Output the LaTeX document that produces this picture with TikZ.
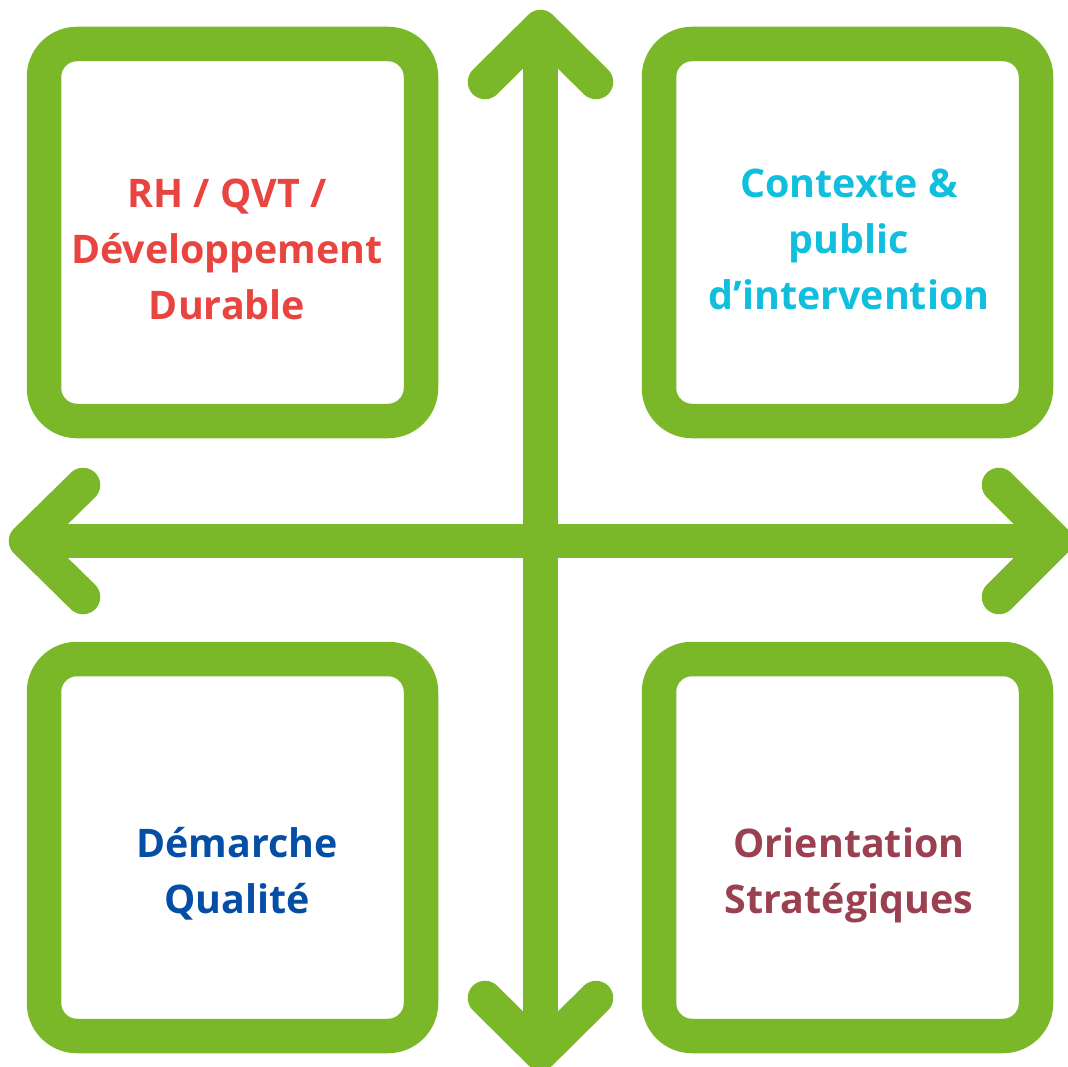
\documentclass[tikz,border=0pt]{standalone}
\usepackage{fontspec}
\setmainfont{Open Sans}
\definecolor{grn}{HTML}{7AB82A}
\definecolor{rhred}{HTML}{E84440}
\definecolor{ctxcyan}{HTML}{10BEDE}
\definecolor{dqblue}{HTML}{044EA6}
\definecolor{osmaroon}{HTML}{9A4050}
\begin{document}
\begin{tikzpicture}[x=1pt,y=-1pt,
  frame/.style={draw=grn, line width=34.5pt, rounded corners=33pt, minimum width=377pt, minimum height=377pt, inner sep=0pt, outer sep=0pt},
  lbl/.style={anchor=base, inner sep=0pt, font=\fontsize{39.4}{56}\selectfont\bfseries},
  shaft/.style={draw=grn, line width=34.5pt, line cap=butt},
  head/.style={draw=grn, line width=34.5pt, line cap=round, line join=round}]
\useasboundingbox (0,0) rectangle (1068,1067);
% boxes
\node[frame] (b1) at (232.5,232.5) {};
\node[frame] (b2) at (847.5,232.5) {};
\node[frame] (b3) at (232.5,847.5) {};
\node[frame] (b4) at (847.5,847.5) {};
% labels
\node[lbl, text=rhred] (t1) at (227,208) {\begin{tabular}[t]{@{}c@{}}RH / QVT /\\Développement\\Durable\end{tabular}};
\node[lbl, text=ctxcyan] (t2) at (849,198) {\begin{tabular}[t]{@{}c@{}}Contexte \&\\public\\d’intervention\end{tabular}};
\node[lbl, text=dqblue] (t3) at (237,857) {\begin{tabular}[t]{@{}c@{}}Démarche\\Qualité\end{tabular}};
\node[lbl, text=osmaroon] (t4) at (849,857) {\begin{tabular}[t]{@{}c@{}}Orientation\\Stratégiques\end{tabular}};
% arrow coordinates
\coordinate (top) at (540.5,27);
\coordinate (bot) at (540.5,1053);
\coordinate (lft) at (26,541);
\coordinate (rgt) at (1055,541);
\coordinate (topL) at (485,82);
\coordinate (topR) at (596,82);
\coordinate (botL) at (485,998);
\coordinate (botR) at (596,998);
\coordinate (lftT) at (83,485);
\coordinate (lftB) at (83,597);
\coordinate (rgtT) at (999,485);
\coordinate (rgtB) at (999,597);
% shafts
\draw[shaft] (top) -- (bot);
\draw[shaft] (lft) -- (rgt);
% heads
\draw[head] (topL) -- (top) -- (topR);
\draw[head] (botL) -- (bot) -- (botR);
\draw[head] (lftT) -- (lft) -- (lftB);
\draw[head] (rgtT) -- (rgt) -- (rgtB);
\end{tikzpicture}
\end{document}
